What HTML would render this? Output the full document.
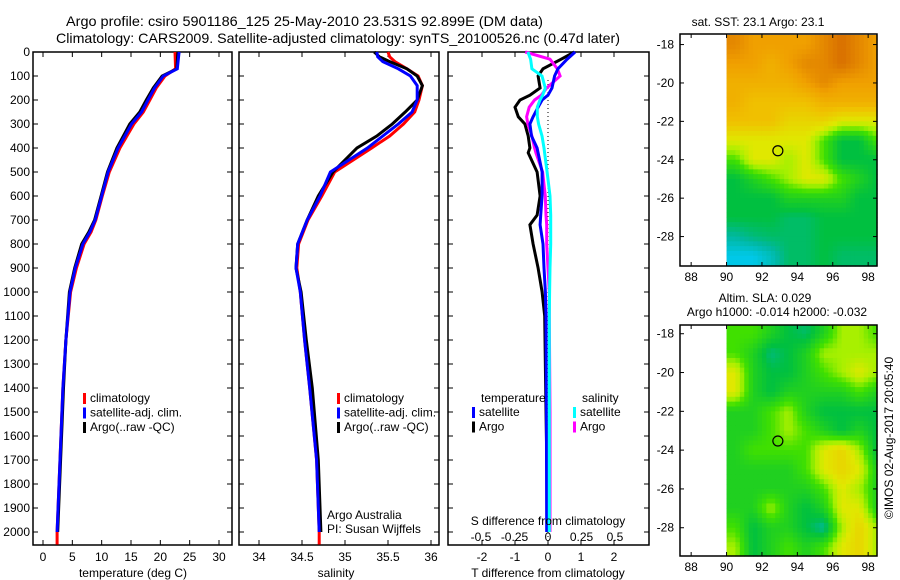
<!DOCTYPE html>
<html><head><meta charset="utf-8">
<style>
html,body{margin:0;padding:0;background:#fff;}
svg{display:block;font-family:"Liberation Sans",sans-serif;}
text{fill:#000;}
</style></head>
<body>
<svg id="chart" width="900" height="580" viewBox="0 0 900 580" xmlns="http://www.w3.org/2000/svg">
<text x="66" y="26" font-size="14" textLength="477" lengthAdjust="spacingAndGlyphs">Argo profile: csiro 5901186_125 25-May-2010 23.531S 92.899E (DM data)</text>
<text x="56" y="43" font-size="14" textLength="564" lengthAdjust="spacingAndGlyphs">Climatology: CARS2009. Satellite-adjusted climatology: synTS_20100526.nc (0.47d later)</text>
<g id="g"></g>
</svg>
<script>
// ---------- data ----------
const tDepth    = [0,70,100,150,200,250,300,400,500,600,700,750,800,900,1000,1200,1400,1700,2000];
const tClim     = [22.5,22.6,20.8,19.3,18.2,17.1,15.5,13.1,11.3,10.1,9.0,8.2,7.0,5.7,4.7,3.9,3.4,2.9,2.4];
const tSat      = [23.2,22.9,20.5,19.0,17.9,16.8,15.1,12.8,11.1,10.0,8.9,8.0,6.8,5.5,4.6,3.9,3.4,2.9,2.4];
const tArgo     = [23.0,22.8,20.3,18.8,17.6,16.5,14.8,12.6,11.0,9.9,8.8,7.8,6.6,5.4,4.5,3.9,3.5,3.0,2.5];
const sDepth    = [0,20,40,70,100,140,200,250,300,350,400,500,600,700,800,900,1000,1200,1400,1700,2000];
const sClim     = [35.50,35.52,35.58,35.72,35.85,35.90,35.86,35.81,35.68,35.52,35.31,34.88,34.73,34.57,34.46,34.44,34.48,34.53,34.59,34.67,34.70];
const sSat      = [35.37,35.38,35.44,35.62,35.76,35.84,35.84,35.78,35.62,35.44,35.26,34.83,34.71,34.56,34.45,34.43,34.48,34.53,34.59,34.67,34.70];
const sArgo     = [35.34,35.40,35.52,35.72,35.84,35.90,35.84,35.70,35.55,35.37,35.14,34.86,34.69,34.56,34.45,34.43,34.49,34.55,34.62,34.69,34.72];
const dDepth    = [0,30,70,100,150,180,200,230,270,300,350,400,420,500,600,680,720,800,900,1000,1100,1500,2000];
const dTSat     = [0.82,0.58,0.3,0.2,0.12,0.0,-0.18,-0.3,-0.45,-0.55,-0.5,-0.33,-0.3,-0.18,-0.18,-0.22,-0.24,-0.15,-0.12,-0.08,-0.06,-0.05,-0.04];
const dTArgo    = [0.8,0.4,-0.15,-0.3,-0.24,-0.55,-0.85,-1.0,-0.9,-0.7,-0.6,-0.55,-0.6,-0.33,-0.24,-0.33,-0.55,-0.45,-0.3,-0.18,-0.1,-0.06,0.0];
const dSSat     = [-0.15,-0.13,-0.12,-0.045,-0.02,-0.04,-0.06,-0.08,-0.08,-0.07,-0.045,-0.03,-0.025,-0.007,0.015,0.02,0.02,0.02,0.015,0.012,0.01,0.01,0.01];
const dSArgo    = [-0.17,0.015,0.07,0.09,-0.01,-0.05,-0.1,-0.14,-0.16,-0.15,-0.12,-0.1,-0.09,-0.04,-0.02,-0.015,-0.01,-0.01,0.0,0.01,0.01,0.015,0.015];
const depthTicks = [0,100,200,300,400,500,600,700,800,900,1000,1100,1200,1300,1400,1500,1600,1700,1800,1900,2000];
const tempTicks  = [0,5,10,15,20,25,30];
const salTicks   = [34,34.5,35,35.5,36];
const tdTicks    = [-2,-1,0,1,2];
const sdTicks    = [-0.5,-0.25,0,0.25,0.5];
const sdTickLabels = ["-0.5","-0.25","0","0.25","0.5"];
const lonTicks   = [88,90,92,94,96,98];
const latTicks   = [-18,-20,-22,-24,-26,-28];
// map grids: rows lat -17.5..-29.5 (1 deg), cols lon 90..98.5
const sstGrid = [
 [5.5,5,5,5,5,5.5,6,5.5,5],
 [5,5,4.5,5,5.5,5.5,6,5.5,5],
 [4.5,4.5,4.5,4.5,5,5.5,5,5,5],
 [4.5,4,4,4,4,4.5,4.5,4.5,4.5],
 [4,4,4,3.5,3.5,3.5,3,3,3],
 [3,3,3,3,3,2,1,1,2],
 [2,3,3,2.5,3,2,1,1,1],
 [1,1.5,2,2.5,3,3,2,1.5,1],
 [1,1,1,1.5,1.5,1.5,1.5,1,1],
 [1,1,1,0.8,0.8,1,1,1,1],
 [0.5,0.7,0.8,0.8,0.8,1,1,1,1],
 [0,0,0.3,0.8,0.8,1,0.8,0.8,0.8]];
const slaGrid = [
 [2,2,1.5,1,0.8,1.5,2.5,2.5,2],
 [2,1.5,0.7,1,1.5,2.5,2.5,2.5,2.5],
 [3,1.5,1,1,1.5,2,2.5,3,2.5],
 [3,1.5,1,1.5,1.5,1.5,1.5,2,1.5],
 [1.5,1.5,2,2.5,1.5,1,1,1,1],
 [1.5,1.5,2,2.5,2,1.5,1,1.5,1],
 [1.5,2,2,2,2,3,3.5,2.5,1],
 [1.5,1.5,1.5,1.5,2,3,3.5,3,1.5],
 [1.5,1.5,1.5,1.5,1.5,2,3,2.5,1.5],
 [1.5,1.5,2.5,1.5,1,1.5,3,3,1.5],
 [2,1,1.5,1.5,1,0.5,2.5,3.5,2.5],
 [2.5,1,1.5,2,1.5,2,3,3.5,2.5]];
const argoLon = 92.899, argoLat = -23.531;

// ---------- helpers ----------
const NS="http://www.w3.org/2000/svg";
const G=document.getElementById('g');
function mk(tag,attrs,parent){const e=document.createElementNS(NS,tag);for(const k in attrs)e.setAttribute(k,attrs[k]);(parent||G).appendChild(e);return e;}
function txt(x,y,s,size,anchor,parent){const e=mk('text',{x:x,y:y,'font-size':size||12,'text-anchor':anchor||'start'},parent);e.textContent=s;return e;}
const TOP=52,BOT=545;
const yD=d=>TOP+d*0.24;
const xT=v=>43+v*(219-43)/30;
const xS=v=>259+(v-34)*86;
const xTD=v=>548+v*33;
const xSD=v=>548+v*134;

function frame(x0,x1,name){
  const r=mk('rect',{x:x0,y:TOP,width:x1-x0,height:BOT-TOP,fill:'none',stroke:'#000','stroke-width':1.5});
  
  
  depthTicks.forEach(d=>{
    mk('line',{x1:x0,x2:x0+5,y1:yD(d),y2:yD(d),stroke:'#000'});
    mk('line',{x1:x1,x2:x1-5,y1:yD(d),y2:yD(d),stroke:'#000'});
  });
}
function xticks(fn,vals,labels,ly){
  vals.forEach((v,i)=>{
    const x=fn(v);
    mk('line',{x1:x,x2:x,y1:TOP,y2:TOP+5,stroke:'#000'});
    mk('line',{x1:x,x2:x,y1:BOT,y2:BOT-5,stroke:'#000'});
    if(labels){const t=txt(x,ly,labels[i],12,'middle');
      
      }
  });
}
function line(xs,ds,fx,color,w,name){
  const pts=xs.map((v,i)=>fx(v).toFixed(1)+','+yD(ds[i]).toFixed(1)).join(' ');
  const p=mk('polyline',{points:pts,fill:'none',stroke:color,'stroke-width':w,'stroke-linejoin':'miter'});
  
  
}

// ---------- panel 1 temperature ----------
frame(33,232,'temperature-panel');
depthTicks.forEach(d=>{const t=txt(30,yD(d)+4,String(d),12,'end');
  
  });
xticks(xT,tempTicks,tempTicks.map(String),561);
line(tClim.concat([tClim[tClim.length-1]]),tDepth.concat([2052]),xT,'#f00',3,'temp-climatology-line');
line(tArgo,tDepth,xT,'#000',3,'temp-argo-line');
line(tSat,tDepth,xT,'#00f',3,'temp-satellite-line');
{const t=txt(133,577,'temperature (deg C)',12,'middle');}

// ---------- panel 2 salinity ----------
frame(239,439,'salinity-panel');
xticks(xS,salTicks,["34","34.5","35","35.5","36"],561);
line(sClim.concat([sClim[sClim.length-1]]),sDepth.concat([2052]),xS,'#f00',3,'sal-climatology-line');
line(sArgo,sDepth,xS,'#000',3,'sal-argo-line');
line(sSat,sDepth,xS,'#00f',3,'sal-satellite-line');
{const t=txt(336,577,'salinity',12,'middle');}
{const t=txt(327,519,'Argo Australia',12);
 const u=txt(327,533,'PI: Susan Wijffels',12);}

// legends
function legend(x,y,items,name){
  const g=mk('g',{});
  
  
  items.forEach((it,i)=>{
    mk('rect',{x:x,y:y+i*14.5-9,width:3,height:11,fill:it[0]},g);
    txt(x+7,y+i*14.5,it[1],12,'start',g);
  });
}
legend(83,402,[['#f00','climatology'],['#00f','satellite-adj. clim.'],['#000','Argo(..raw -QC)']],'temperature-legend');
legend(337,402,[['#f00','climatology'],['#00f','satellite-adj. clim.'],['#000','Argo(..raw -QC)']],'salinity-legend');

// ---------- panel 3 differences ----------
frame(448,649,'difference-panel');
xticks(xTD,tdTicks,tdTicks.map(String),561);
sdTicks.forEach((v,i)=>{const t=txt(xSD(v),541,sdTickLabels[i],12,'middle');});
mk('line',{x1:548,x2:548,y1:80,y2:BOT,stroke:'#000','stroke-dasharray':'1,3'});
line(dTArgo,dDepth,xTD,'#000',3,'tdiff-argo-line');
line(dSArgo,dDepth,xSD,'#f0f',3,'sdiff-argo-line');
line(dTSat,dDepth,xTD,'#00f',3,'tdiff-satellite-line');
line(dSSat,dDepth,xSD,'#0ff',3,'sdiff-satellite-line');
{const t=txt(548,525,'S difference from climatology',12,'middle');
 const u=txt(548,577,'T difference from climatology',12,'middle');}
{const t=txt(481,402,'temperature',12);
 const u=txt(582,402,'salinity',12);}
legend(472,416,[['#00f','satellite'],['#000','Argo']],'tdiff-legend');
legend(573,416,[['#0ff','satellite'],['#f0f','Argo']],'sdiff-legend');

// ---------- maps ----------
const stops=[[0,[0,200,232]],[0.5,[0,184,160]],[1,[0,192,64]],[2,[64,224,0]],[2.5,[168,240,0]],[3,[224,232,0]],[4,[240,192,0]],[5,[240,160,0]],[6,[216,112,0]]];
function cmap(v){
  v=Math.max(0,Math.min(6,v));
  for(let i=1;i<stops.length;i++){if(v<=stops[i][0]){const a=stops[i-1],b=stops[i],f=(v-a[0])/(b[0]-a[0]);
    return 'rgb('+a[1].map((c,k)=>Math.round(c+(b[1][k]-c)*f)).join(',')+')';}}
  return 'rgb(216,112,0)';
}
function sample(grid,lon,lat){
  // cell centres: lon 90.5+j, lat -18-i
  let fj=lon-90.5, fi=-18-lat;
  fj=Math.max(0,Math.min(grid[0].length-1,fj)); fi=Math.max(0,Math.min(grid.length-1,fi));
  const j0=Math.floor(fj),i0=Math.floor(fi),j1=Math.min(j0+1,grid[0].length-1),i1=Math.min(i0+1,grid.length-1);
  const a=fj-j0,b=fi-i0;
  return grid[i0][j0]*(1-a)*(1-b)+grid[i0][j1]*a*(1-b)+grid[i1][j0]*(1-a)*b+grid[i1][j1]*a*b;
}
function map(y0,y1,latTop,pxPerLat,grid,name){
  const x0=680,x1=877,lon0=87.37,pxLon=17.7;
  const xL=l=>x0+(l-lon0)*pxLon, yL=l=>y0+(latTop-l)*pxPerLat;
  const g=mk('g',{});
  
  
  const step=0.25;
  for(let lat=-17.5;lat>-29.6;lat-=step){
    for(let lon=90;lon<98.5;lon+=step){
      const v=sample(grid,lon+step/2,lat-step/2);
      const ya=Math.max(y0,yL(lat)), yb=Math.min(y1,yL(lat-step));
      if(yb<=ya)continue;
      const c=mk('rect',{x:xL(lon).toFixed(2),y:ya.toFixed(2),width:(step*pxLon+0.6).toFixed(2),height:(yb-ya+0.6).toFixed(2),fill:cmap(v)},g);
      
      
    }
  }
  mk('rect',{x:x0,y:y0,width:x1-x0,height:y1-y0,fill:'none',stroke:'#000','stroke-width':1.5});
  lonTicks.forEach(l=>{const x=xL(l);mk('line',{x1:x,x2:x,y1:y1,y2:y1-4,stroke:'#000'});mk('line',{x1:x,x2:x,y1:y0,y2:y0+4,stroke:'#000'});
    const t=txt(x,y1+15,String(l),12,'middle');});
  latTicks.forEach(l=>{const y=yL(l);mk('line',{x1:x0,x2:x0+4,y1:y,y2:y,stroke:'#000'});mk('line',{x1:x1,x2:x1-4,y1:y,y2:y,stroke:'#000'});
    const t=txt(x0-6,y+4,String(l),12,'end');});
  const m=mk('circle',{cx:xL(argoLon),cy:yL(argoLat),r:5,fill:'none',stroke:'#000','stroke-width':1.2});
  
  
}
map(34,266,-17.45,19.2,sstGrid,'sst-map');
map(325,556,-17.55,19.4,slaGrid,'sla-map');
{const t=txt(758,26,'sat. SST: 23.1 Argo: 23.1',12,'middle');
 const u=txt(765,302,'Altim. SLA: 0.029',12,'middle');
 const w=txt(777,316,'Argo h1000: -0.014 h2000: -0.032',12,'middle');
 const c=txt(0,0,'©IMOS 02-Aug-2017 20:05:40',12,'middle');c.setAttribute('transform','translate(893,438) rotate(-90)');}
</script>
</body></html>
